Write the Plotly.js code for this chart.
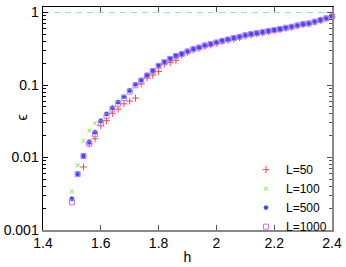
<!DOCTYPE html>
<html><head><meta charset="utf-8">
<script src="https://cdn.plot.ly/plotly-3.0.1.min.js"></script>
<style>html,body{margin:0;padding:0;background:#fff}#c{width:346px;height:267px}</style>
</head><body><div id="c"></div>
<script>
const h = [1.50,1.52,1.54,1.56,1.58,1.60,1.62,1.64,1.66,1.68,1.70,1.72,1.74,1.76,1.78,1.80,1.82,1.84,1.86,1.88,1.90,1.92,1.94,1.96,1.98,2.00,2.02,2.04,2.06,2.08,2.10,2.12,2.14,2.16,2.18,2.20,2.22,2.24,2.26,2.28,2.30,2.32,2.34,2.36,2.38,2.40];
const epsL50 = [null,null,0.0074,0.0154,0.0181,0.0275,0.0322,0.0407,0.0465,0.055,0.060,0.066,0.103,0.125,0.137,0.154,0.195,0.203,0.219,0.258,0.283,0.304,0.321,0.342,0.357,0.377,0.398,0.415,0.433,0.452,0.474,0.492,0.508,0.526,0.544,0.562,0.581,0.605,0.626,0.654,0.683,0.700,0.739,0.780,0.825,0.882];
const epsL100 = [0.0034,0.0078,0.0170,0.0234,0.0296,0.0330,0.0400,0.0486,0.058,0.069,0.084,0.102,0.116,0.135,0.156,0.182,0.204,0.226,0.249,0.265,0.286,0.308,0.325,0.347,0.362,0.382,0.403,0.421,0.439,0.458,0.480,0.499,0.515,0.532,0.550,0.568,0.587,0.611,0.631,0.659,0.688,0.704,0.742,0.784,0.828,0.885];
const epsL500 = [0.0027,0.0059,0.0105,0.0165,0.0223,0.0320,0.0400,0.0486,0.058,0.069,0.084,0.102,0.117,0.137,0.158,0.186,0.208,0.231,0.254,0.270,0.292,0.314,0.331,0.353,0.368,0.388,0.409,0.427,0.445,0.464,0.487,0.505,0.521,0.538,0.556,0.574,0.592,0.617,0.637,0.665,0.693,0.709,0.747,0.788,0.832,0.887];
const epsL1000 = [0.0024,0.0059,0.0105,0.0155,0.0210,0.0296,0.0370,0.0460,0.055,0.066,0.081,0.099,0.115,0.135,0.156,0.184,0.206,0.229,0.252,0.268,0.290,0.312,0.329,0.351,0.366,0.386,0.407,0.425,0.443,0.462,0.485,0.503,0.519,0.536,0.554,0.572,0.590,0.615,0.635,0.663,0.691,0.707,0.745,0.786,0.830,0.885];
const seriesNames = ['L=50','L=100','L=500','L=1000'];
const hRange = [1.4, 2.4];
const refLevel = 1;
const yTickVals = [0.001,0.01,0.1,1];
const yTickText = ['0.001','0.01','0.1','1'];
const minorDigits = [2,3,4,5,6,7,8,9];
const yMinorVals = [];
[0.001,0.01,0.1].forEach(d => minorDigits.forEach(k => yMinorVals.push(+(d*k).toPrecision(3))));

const font = {family:'"Liberation Sans", Arial, sans-serif', color:'#000'};
const mk = (y, name, sym, col, size, lw) => ({
  x: h, y: y, name: name, type:'scatter', mode:'markers', cliponaxis:false,
  marker:{symbol:sym, size:size, color:col, line:{color:col, width:lw}}
});
const traces = [
  {x: hRange, y:[refLevel, refLevel], mode:'lines', showlegend:false, hoverinfo:'skip',
   line:{color:'#7fe9d6', dash:'6px,5px', width:1.2}},
  mk(epsL50, seriesNames[0], 'cross-thin-open', '#ff4444', 5, 1),
  mk(epsL100, seriesNames[1], 'x-thin-open', '#77ee33', 4, 1),
  mk(epsL500, seriesNames[2], 'asterisk-open', '#3350ff', 4, 1.3),
  mk(epsL1000, seriesNames[3], 'square-open', '#c070ff', 5, 1),
];
const minorCfg = (c) => ({ticks:'inside', ticklen:3, tickcolor:c, showgrid:false, tickvals:yMinorVals});
const layout = {
  width:346, height:267, margin:{l:43, r:14, t:7, b:37},
  paper_bgcolor:'#fff', plot_bgcolor:'#fff', font:font, showlegend:true,
  xaxis:{range:hRange, dtick:0.2, tick0:1.4, ticks:'inside', ticklen:5, tickcolor:'#555',
    showline:true, linecolor:'#888', linewidth:1.5, zeroline:false, showgrid:false,
    tickfont:{size:14}, title:{text:'h', font:{size:14}, standoff:2}},
  xaxis2:{range:hRange, dtick:0.2, tick0:1.4, overlaying:'x', side:'top', ticks:'inside', ticklen:5,
    tickcolor:'#555', showline:true, linecolor:'#000', linewidth:1.5, showticklabels:false,
    showgrid:false, zeroline:false},
  yaxis:{type:'log', range:[-3, 0.076], tickvals:yTickVals, ticktext:yTickText, ticks:'inside',
    ticklen:5, tickcolor:'#000', showline:true, linecolor:'#000', linewidth:1.5, showgrid:false,
    zeroline:false, tickfont:{size:14}, minor:minorCfg('#000')},
  yaxis2:{type:'log', range:[-3, 0.076], overlaying:'y', side:'right', tickvals:yTickVals,
    ticks:'inside', ticklen:5, tickcolor:'#555', showline:true, linecolor:'#888', linewidth:1.5,
    showticklabels:false, showgrid:false, zeroline:false, minor:minorCfg('#555')},
  legend:{x:1, xanchor:'right', y:-0.05, yanchor:'bottom', bgcolor:'rgba(0,0,0,0)',
    font:{size:12}, itemwidth:30, tracegroupgap:0},
  annotations:[{text:'ϵ', xref:'paper', yref:'paper', x:-21/289, y:0.505, xanchor:'center',
    yanchor:'middle', showarrow:false, textangle:-90, font:{size:14}}],
};
traces.push({x:[null], y:[null], xaxis:'x2', yaxis:'y2', showlegend:false, hoverinfo:'skip'});
Plotly.newPlot('c', traces, layout, {staticPlot:true});
</script></body></html>
